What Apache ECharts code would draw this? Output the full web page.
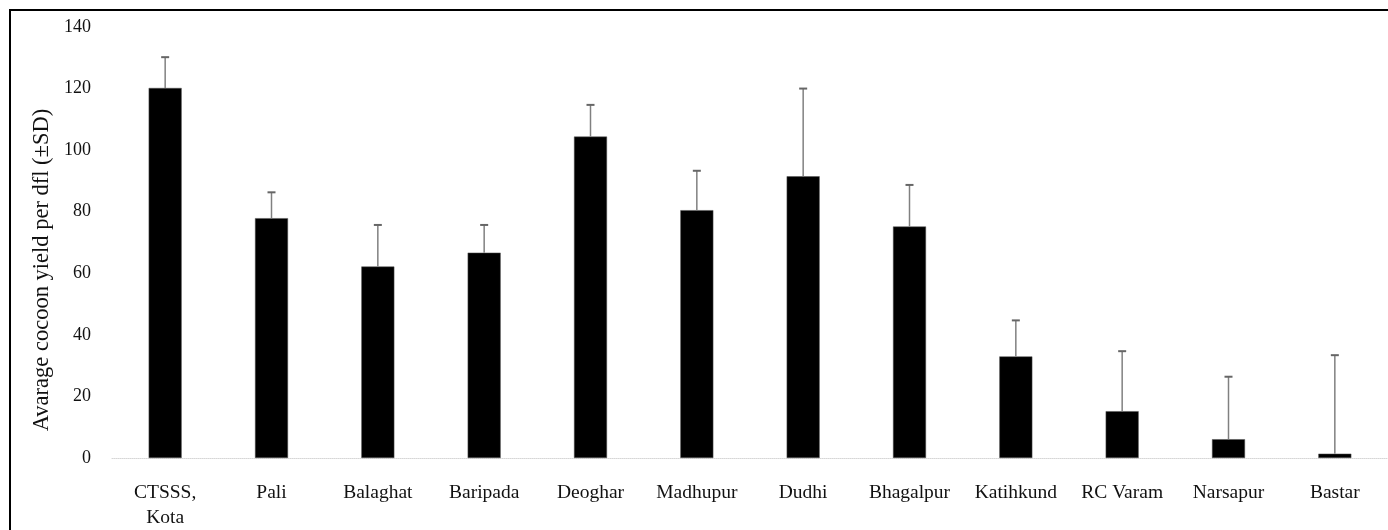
<!DOCTYPE html>
<html>
<head>
<meta charset="utf-8">
<script src="https://cdn.jsdelivr.net/npm/echarts@6/dist/echarts.min.js"></script>
<style>
  html, body { margin: 0; padding: 0; background: #fff; }
  #main { width: 1388px; height: 530px; }
</style>
</head>
<body>
<div id="main"></div>
<script>
// sites (x axis)
var sites = ['CTSSS,\nKota', 'Pali', 'Balaghat', 'Baripada', 'Deoghar', 'Madhupur',
             'Dudhi', 'Bhagalpur', 'Katihkund', 'RC Varam', 'Narsapur', 'Bastar'];
// average cocoon yield per dfl
var yieldMean = [120.2, 77.9, 62.2, 66.7, 104.4, 80.5, 91.5, 75.2, 33.0, 15.2, 6.1, 1.4];
// standard deviation (only the upper whisker is drawn)
var yieldSD = [10.0, 8.4, 13.5, 9.0, 10.3, 12.8, 28.5, 13.5, 11.7, 19.5, 20.3, 32.0];

var chart = echarts.init(document.getElementById('main'));

var errData = [];
for (var i = 0; i < sites.length; i++) {
    errData.push([i, yieldMean[i], yieldMean[i] + yieldSD[i]]);
}

var serif = '"Liberation Serif", "Times New Roman", serif';

var option = {
    backgroundColor: '#fff',
    animation: false,
    graphic: [
        {
            // frame: only top and left edges fall inside the picture
            type: 'rect',
            shape: { x: 10, y: 10, width: 1400, height: 540 },
            style: { fill: 'none', stroke: '#000', lineWidth: 2 },
            z: 100
        },
        {
            type: 'text',
            x: 42,
            y: 270,
            rotation: Math.PI / 2,
            style: {
                text: 'Avarage cocoon yield per dfl (±SD)',
                font: '22.5px ' + serif,
                fill: '#111',
                align: 'center',
                verticalAlign: 'middle'
            }
        }
    ],
    grid: {
        left: 112,
        right: 0,
        top: 27,
        bottom: 70
    },
    xAxis: {
        type: 'category',
        data: sites,
        axisLine: { show: true, lineStyle: { color: '#d6d6d6', width: 1, type: 'dotted' } },
        axisTick: { show: false },
        axisLabel: {
            interval: 0,
            margin: 22,
            color: '#111',
            fontFamily: serif,
            fontSize: 19.5,
            lineHeight: 25
        }
    },
    yAxis: {
        type: 'value',
        min: 0,
        max: 140,
        interval: 20,
        axisLine: { show: false },
        axisTick: { show: false },
        splitLine: { show: false },
        axisLabel: {
            margin: 21,
            color: '#111',
            fontFamily: serif,
            fontSize: 18
        }
    },
    series: [
        {
            name: 'Mean',
            type: 'bar',
            data: yieldMean,
            barWidth: 33,
            itemStyle: { color: '#000', borderColor: '#555', borderWidth: 0.5 }
        },
        {
            name: 'SD',
            type: 'custom',
            data: errData,
            z: 3,
            renderItem: function (params, api) {
                var x = api.value(0);
                var lo = api.coord([x, api.value(1)]);
                var hi = api.coord([x, api.value(2)]);
                var half = 4;
                return {
                    type: 'group',
                    children: [
                        {
                            type: 'line',
                            shape: { x1: lo[0], y1: lo[1], x2: hi[0], y2: hi[1] },
                            style: { stroke: '#808080', lineWidth: 1.5 }
                        },
                        {
                            type: 'line',
                            shape: { x1: hi[0] - half, y1: hi[1], x2: hi[0] + half, y2: hi[1] },
                            style: { stroke: '#666', lineWidth: 2 }
                        }
                    ]
                };
            }
        }
    ]
};

chart.setOption(option);
</script>
</body>
</html>
